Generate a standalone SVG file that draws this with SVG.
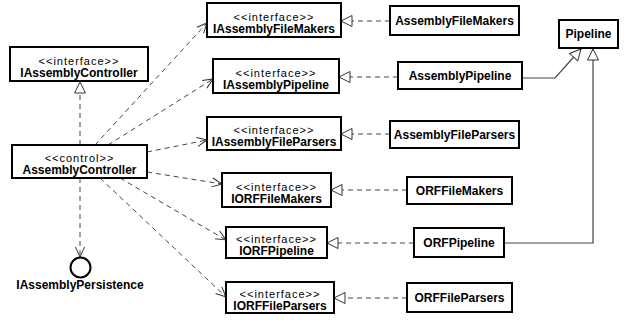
<svg xmlns="http://www.w3.org/2000/svg" width="630" height="320" viewBox="0 0 630 320">
  <style>
    .box { fill: #fff; stroke: #000; stroke-width: 2; }
    .st { font-family: "Liberation Sans", Arial, sans-serif; font-size: 11px; letter-spacing: 1px; text-anchor: middle; fill: #000; }
    .nm { font-family: "Liberation Sans", Arial, sans-serif; font-size: 12px; font-weight: bold; text-anchor: middle; fill: #000; }
    .dep { fill: none; stroke: #444; stroke-width: 1; stroke-dasharray: 5 4; marker-end: url(#open); }
    .real { fill: none; stroke: #444; stroke-width: 1; stroke-dasharray: 5 4; marker-end: url(#tri); }
    .gen { fill: none; stroke: #444; stroke-width: 1.2; marker-end: url(#tri); }
  </style>
  <defs>
    <marker id="tri" viewBox="-12 -7 13 14" refX="0" refY="0" markerWidth="13" markerHeight="14" orient="auto" markerUnits="userSpaceOnUse">
      <path d="M0,0 L-11,-5.5 L-11,5.5 Z" fill="#fff" stroke="#333" stroke-width="1"/>
    </marker>
    <marker id="open" viewBox="-11 -6 12 12" refX="0" refY="0" markerWidth="12" markerHeight="12" orient="auto" markerUnits="userSpaceOnUse">
      <path d="M-10,-4.5 L0,0 L-10,4.5" fill="none" stroke="#333" stroke-width="1"/>
    </marker>
  </defs>

  <!-- connectors -->
  <g id="connectors">
    <!-- AssemblyController dependencies -->
    <path class="dep" d="M95,145 L207,23"/>
    <path class="dep" d="M108,145 L213,79"/>
    <path class="dep" d="M147,152 L207,140"/>
    <path class="dep" d="M147,172 L222,184"/>
    <path class="dep" d="M120,178 L226,240"/>
    <path class="dep" d="M100,178 L226,297"/>
    <path class="dep" d="M80,178 L80,257"/>
    <!-- realizations -->
    <path class="real" d="M80,145 L80,82"/>
    <path class="real" d="M390,21 L341,21"/>
    <path class="real" d="M398,77 L339,77"/>
    <path class="real" d="M390,134 L341,134"/>
    <path class="real" d="M407,190 L331,190"/>
    <path class="real" d="M414,243 L327,243"/>
    <path class="real" d="M407,298 L334,298"/>
    <!-- generalizations -->
    <path class="gen" d="M522,78 L555,78 L581,49"/>
    <path class="gen" d="M504,243 L593,243 L593,49"/>
  </g>

  <g id="IAssemblyController">
    <rect class="box" x="10" y="47" width="138" height="34"/>
    <text class="st" x="79" y="65">&lt;&lt;interface&gt;&gt;</text>
    <text class="nm" x="79" y="77">IAssemblyController</text>
  </g>
  <g id="AssemblyController">
    <rect class="box" x="12" y="145" width="135" height="33"/>
    <text class="st" x="79.5" y="162">&lt;&lt;control&gt;&gt;</text>
    <text class="nm" x="79.5" y="174">AssemblyController</text>
  </g>
  <g id="IAssemblyPersistence">
    <circle cx="80.5" cy="267.5" r="10" fill="#fff" stroke="#000" stroke-width="2"/>
    <text class="nm" x="80" y="289">IAssemblyPersistence</text>
  </g>

  <g id="IAssemblyFileMakers">
    <rect class="box" x="207" y="3" width="134" height="34"/>
    <text class="st" x="274" y="21">&lt;&lt;interface&gt;&gt;</text>
    <text class="nm" x="274" y="33">IAssemblyFileMakers</text>
  </g>
  <g id="IAssemblyPipeline">
    <rect class="box" x="213" y="59" width="126" height="34"/>
    <text class="st" x="276" y="77">&lt;&lt;interface&gt;&gt;</text>
    <text class="nm" x="276" y="89">IAssemblyPipeline</text>
  </g>
  <g id="IAssemblyFileParsers">
    <rect class="box" x="207" y="117" width="134" height="33"/>
    <text class="st" x="274" y="134">&lt;&lt;interface&gt;&gt;</text>
    <text class="nm" x="274" y="146">IAssemblyFileParsers</text>
  </g>
  <g id="IORFFileMakers">
    <rect class="box" x="222" y="173" width="109" height="34"/>
    <text class="st" x="276.5" y="191">&lt;&lt;interface&gt;&gt;</text>
    <text class="nm" x="276.5" y="203">IORFFileMakers</text>
  </g>
  <g id="IORFPipeline">
    <rect class="box" x="226" y="227" width="101" height="31"/>
    <text class="st" x="276.5" y="243">&lt;&lt;interface&gt;&gt;</text>
    <text class="nm" x="276.5" y="255">IORFPipeline</text>
  </g>
  <g id="IORFFileParsers">
    <rect class="box" x="226" y="282" width="108" height="31"/>
    <text class="st" x="280" y="298">&lt;&lt;interface&gt;&gt;</text>
    <text class="nm" x="280" y="310">IORFFileParsers</text>
  </g>

  <g id="AssemblyFileMakers">
    <rect class="box" x="390" y="6" width="129" height="29"/>
    <text class="nm" x="454.5" y="25">AssemblyFileMakers</text>
  </g>
  <g id="AssemblyPipeline">
    <rect class="box" x="398" y="62" width="124" height="27"/>
    <text class="nm" x="460" y="80">AssemblyPipeline</text>
  </g>
  <g id="AssemblyFileParsers">
    <rect class="box" x="390" y="121" width="129" height="27"/>
    <text class="nm" x="454.5" y="139">AssemblyFileParsers</text>
  </g>
  <g id="Pipeline">
    <rect class="box" x="559" y="20" width="59" height="28"/>
    <text class="nm" x="588.5" y="38">Pipeline</text>
  </g>
  <g id="ORFFileMakers">
    <rect class="box" x="407" y="177" width="105" height="27"/>
    <text class="nm" x="459.5" y="195">ORFFileMakers</text>
  </g>
  <g id="ORFPipeline">
    <rect class="box" x="414" y="228" width="90" height="29"/>
    <text class="nm" x="459" y="247">ORFPipeline</text>
  </g>
  <g id="ORFFileParsers">
    <rect class="box" x="407" y="283" width="105" height="29"/>
    <text class="nm" x="459.5" y="302">ORFFileParsers</text>
  </g>
</svg>
